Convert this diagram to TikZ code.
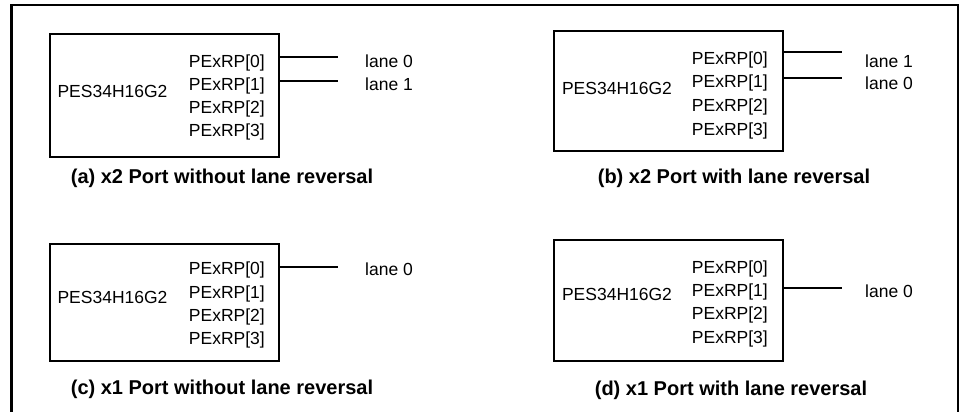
\documentclass[tikz,border=0pt]{standalone}
\usepackage{fontspec}
\setmainfont{Liberation Sans}
\begin{document}
\begin{tikzpicture}[x=1pt,y=-1pt,
  chip/.style={draw, line width=1.8pt, anchor=north west, minimum width=229pt, inner sep=0pt},
  txt/.style={inner sep=0pt, font=\fontsize{17.5}{20}\selectfont},
  port/.style={txt, anchor=east},
  lanelbl/.style={txt, anchor=west},
  caption/.style={inner sep=0pt, font=\fontsize{20}{24}\selectfont\bfseries},
  wire/.style={line width=1.6pt}]
\useasboundingbox (0,0) rectangle (961,412);
% outer frame (open at the bottom)
\coordinate (f1) at (11.5,420);
\coordinate (f2) at (11.5,5);
\coordinate (f3) at (958,5);
\coordinate (f4) at (958,420);
\draw[line width=2.5pt] (f1) -- (f2) -- (f3) -- (f4);

% ---------- (a) ----------
\node[chip, minimum height=123pt] (A) at (49,33) {};
\node[txt] (Aname) at (112.5,91) {PES34H16G2};
\node[port] (A0) at (265,62.5) {PExRP[0]};
\node[port] (A1) at (265,85.5) {PExRP[1]};
\node[port] (A2) at (265,108.5) {PExRP[2]};
\node[port] (A3) at (265,132) {PExRP[3]};
\coordinate (Ae0) at (338,57);
\coordinate (Ae1) at (338,80.7);
\draw[wire] (A.east |- Ae0) -- (Ae0);
\draw[wire] (A.east |- Ae1) -- (Ae1);
\node[lanelbl] (AL0) at (365,61.7) {lane 0};
\node[lanelbl] (AL1) at (365,84) {lane 1};
\node[caption] (Acap) at (222,178) {(a) x2 Port without lane reversal};

% ---------- (b) ----------
\node[chip, minimum height=120pt] (B) at (553,30) {};
\node[txt] (Bname) at (617,88) {PES34H16G2};
\node[port] (B0) at (768,60) {PExRP[0]};
\node[port] (B1) at (768,83) {PExRP[1]};
\node[port] (B2) at (768,107) {PExRP[2]};
\node[port] (B3) at (768,130.5) {PExRP[3]};
\coordinate (Be0) at (842,52);
\coordinate (Be1) at (842,78);
\draw[wire] (B.east |- Be0) -- (Be0);
\draw[wire] (B.east |- Be1) -- (Be1);
\node[lanelbl] (BL1) at (865,61.7) {lane 1};
\node[lanelbl] (BL0) at (865,83.3) {lane 0};
\node[caption] (Bcap) at (734,178) {(b) x2 Port with lane reversal};

% ---------- (c) ----------
\node[chip, minimum height=117pt] (C) at (49,243) {};
\node[txt] (Cname) at (112.5,297) {PES34H16G2};
\node[port] (C0) at (265,270) {PExRP[0]};
\node[port] (C1) at (265,293.5) {PExRP[1]};
\node[port] (C2) at (265,317) {PExRP[2]};
\node[port] (C3) at (265,340) {PExRP[3]};
\coordinate (Ce0) at (338,267);
\draw[wire] (C.east |- Ce0) -- (Ce0);
\node[lanelbl] (CL0) at (365,269) {lane 0};
\node[caption] (Ccap) at (222,389) {(c) x1 Port without lane reversal};

% ---------- (d) ----------
\node[chip, minimum height=121pt] (D) at (553,239) {};
\node[txt] (Dname) at (617,294.3) {PES34H16G2};
\node[port] (D0) at (768,268.5) {PExRP[0]};
\node[port] (D1) at (768,291.5) {PExRP[1]};
\node[port] (D2) at (768,315) {PExRP[2]};
\node[port] (D3) at (768,338.5) {PExRP[3]};
\coordinate (De0) at (842,287.7);
\draw[wire] (D.east |- De0) -- (De0);
\node[lanelbl] (DL0) at (865,291) {lane 0};
\node[caption] (Dcap) at (731,390) {(d) x1 Port with lane reversal};
\end{tikzpicture}
\end{document}
